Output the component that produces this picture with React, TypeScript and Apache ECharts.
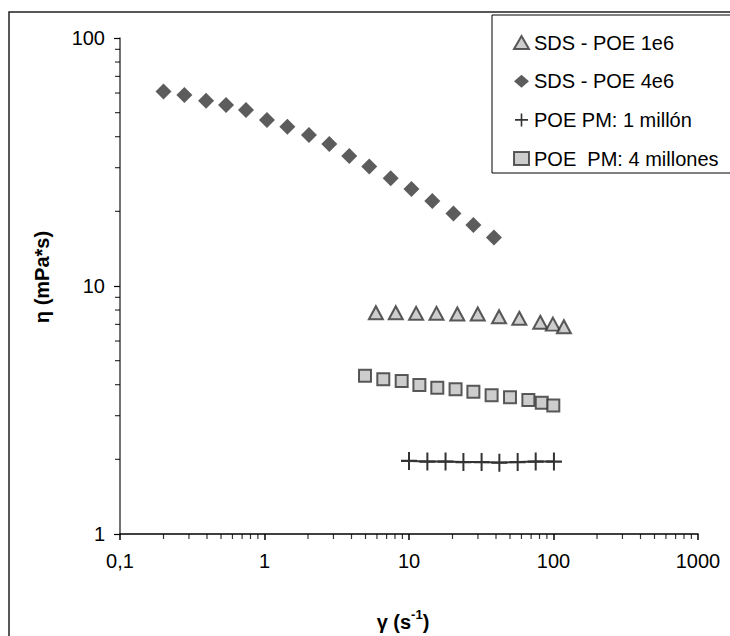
import React, { useEffect, useRef } from "react";
import * as echarts from "echarts";

const sds1e6X = [5.9, 8.1, 11.2, 15.5, 21.6, 29.9, 42, 58, 81, 99, 118];
const sds1e6Y = [7.8, 7.8, 7.76, 7.76, 7.71, 7.71, 7.52, 7.41, 7.14, 7.02, 6.85];

const sds4e6X = [0.2, 0.279, 0.394, 0.542, 0.745, 1.04, 1.44, 2.03, 2.81, 3.86, 5.31, 7.47, 10.4, 14.5, 20.3, 27.9, 38.7];
const sds4e6Y = [60.8, 58.9, 55.9, 53.7, 51.3, 46.7, 43.9, 40.6, 37.4, 33.4, 30.3, 27.2, 24.6, 22.0, 19.6, 17.6, 15.7];

const poe1X = [10, 13.4, 17.9, 23.8, 31.8, 42.2, 56.5, 75.3, 100.7];
const poe1Y = [1.97, 1.96, 1.96, 1.95, 1.95, 1.94, 1.95, 1.96, 1.96];

const poe4X = [4.96, 6.64, 8.9, 11.8, 15.7, 21, 27.9, 37.3, 50, 67, 82.9, 99.7];
const poe4Y = [4.35, 4.21, 4.14, 3.99, 3.89, 3.83, 3.75, 3.63, 3.56, 3.47, 3.38, 3.3];

const seriesNames = ["SDS - POE 1e6", "SDS - POE 4e6", "POE PM: 1 millón", "POE  PM: 4 millones"];

const xMinorTicks = [0.2, 0.3, 0.4, 0.5, 0.6, 0.7, 0.8, 0.9, 2, 3, 4, 5, 6, 7, 8, 9, 20, 30, 40, 50, 60, 70, 80, 90, 200, 300, 400, 500, 600, 700, 800, 900];
const yMinorTicks = [2, 3, 4, 5, 6, 7, 8, 9, 20, 30, 40, 50, 60, 70, 80, 90];

const PLUS = "path://M0,7H16V9H0Z M7,0H9V16H7Z";
const FONT = "Liberation Sans, Arial, sans-serif";

const zip = (xs: number[], ys: number[]) => xs.map((x, i) => [x, ys[i]]);

export default function App() {
  const ref = useRef<HTMLDivElement>(null);
  useEffect(() => {
    if (!ref.current) return;
    const chart = echarts.init(ref.current, null, { renderer: "svg" });
    chart.setOption({
      animation: false,
      backgroundColor: "#fff",
      grid: { left: 120, top: 38, right: 32, bottom: 102, containLabel: false },
      xAxis: {
        type: "log",
        logBase: 10,
        min: 0.1,
        max: 1000,
        splitLine: { show: false },
        axisLine: { onZero: false, lineStyle: { color: "#000", width: 1.5 } },
        axisTick: { show: true, length: 6, lineStyle: { color: "#000", width: 1.5 } },
        axisLabel: {
          margin: 17,
          fontSize: 20,
          fontFamily: FONT,
          color: "#000",
          formatter: (v: number) => (v < 0.5 ? "0,1" : String(Math.round(v))),
        },
      },
      yAxis: {
        type: "log",
        logBase: 10,
        min: 1,
        max: 100,
        splitLine: { show: false },
        axisLine: { onZero: false, lineStyle: { color: "#444", width: 1.5 } },
        axisTick: { show: true, length: 6, lineStyle: { color: "#000", width: 1.2 } },
        axisLabel: {
          margin: 15,
          fontSize: 20,
          fontFamily: FONT,
          color: "#000",
          formatter: (v: number) => String(Math.round(v)),
        },
      },
      legend: {
        orient: "vertical",
        left: 508,
        top: 27.5,
        itemWidth: 15,
        itemHeight: 13,
        itemGap: 18.7,
        z: 10,
        textStyle: { fontSize: 20, fontFamily: FONT, color: "#000", lineHeight: 20 },
        data: [
          { name: seriesNames[0], icon: "triangle" },
          { name: seriesNames[1], icon: "diamond" },
          { name: seriesNames[2], icon: PLUS },
          { name: seriesNames[3], icon: "rect" },
        ],
      },
      graphic: [
        {
          type: "rect",
          z: -10,
          silent: true,
          shape: { x: 9, y: 12, width: 800, height: 700 },
          style: { fill: "none", stroke: "#222", lineWidth: 1.5 },
        },
        {
          type: "rect",
          z: 5,
          silent: true,
          shape: { x: 492, y: 15, width: 300, height: 158 },
          style: { fill: "#fff", stroke: "#000", lineWidth: 1 },
        },
        {
          type: "text",
          z: 5,
          x: 42,
          y: 277,
          rotation: Math.PI / 2,
          style: {
            text: "η (mPa*s)",
            fontSize: 20,
            fontWeight: "bold",
            fontFamily: FONT,
            fill: "#000",
            align: "center",
            verticalAlign: "middle",
          },
        },
        {
          type: "text",
          z: 5,
          x: 403,
          y: 620,
          style: {
            text: "{a|γ (s}{b|-1}{a|)}",
            align: "center",
            verticalAlign: "middle",
            fill: "#000",
            rich: {
              a: { fontSize: 20, fontWeight: "bold", fontFamily: FONT, fill: "#000", verticalAlign: "bottom", lineHeight: 24 },
              b: { fontSize: 13, fontWeight: "bold", fontFamily: FONT, fill: "#000", verticalAlign: "top", lineHeight: 24 },
            },
          },
        },
      ],
      series: [
        {
          name: seriesNames[0],
          type: "scatter",
          symbol: "triangle",
          symbolSize: [14, 13],
          itemStyle: { color: "#c0c0c0", borderColor: "#333", borderWidth: 2 },
          data: zip(sds1e6X, sds1e6Y),
          z: 3,
        },
        {
          name: seriesNames[1],
          type: "scatter",
          symbol: "diamond",
          symbolSize: [16, 16],
          itemStyle: { color: "#333" },
          data: zip(sds4e6X, sds4e6Y),
          z: 3,
        },
        {
          name: seriesNames[2],
          type: "line",
          symbol: PLUS,
          symbolSize: [16, 18],
          showAllSymbol: true,
          lineStyle: { color: "#333", width: 2 },
          itemStyle: { color: "#333" },
          data: zip(poe1X, poe1Y),
          z: 3,
        },
        {
          name: seriesNames[3],
          type: "scatter",
          symbol: "rect",
          symbolSize: [12, 12],
          itemStyle: { color: "#c0c0c0", borderColor: "#333", borderWidth: 2 },
          data: zip(poe4X, poe4Y),
          z: 3,
        },
        {
          name: "xMinor",
          type: "scatter",
          silent: true,
          clip: false,
          symbol: "rect",
          symbolSize: [1.2, 5],
          symbolOffset: [0, 2.5],
          itemStyle: { color: "#000" },
          data: xMinorTicks.map((v) => [v, 1]),
          z: 2,
        },
        {
          name: "yMinor",
          type: "scatter",
          silent: true,
          clip: false,
          symbol: "rect",
          symbolSize: [5, 1.2],
          symbolOffset: [-2.5, 0],
          itemStyle: { color: "#000" },
          data: yMinorTicks.map((v) => [0.1, v]),
          z: 2,
        },
      ],
    });
    return () => chart.dispose();
  }, []);
  return (
    <div
      ref={ref}
      style={{ position: "fixed", left: 0, top: 0, width: 730, height: 636, background: "#fff" }}
    />
  );
}
